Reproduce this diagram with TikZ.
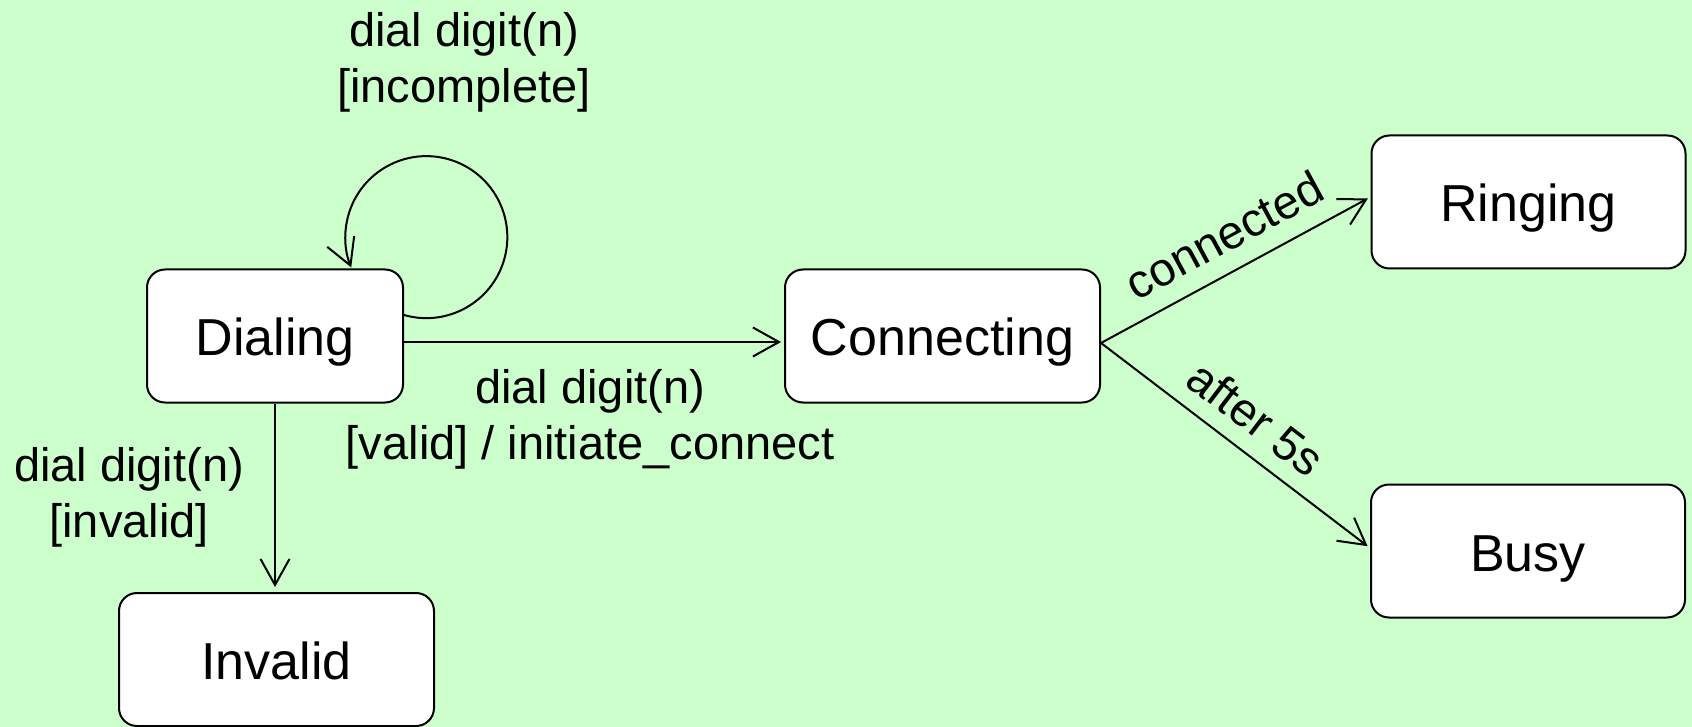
\documentclass[tikz,border=0pt]{standalone}
\usepackage{fontspec}
\setmainfont{Liberation Sans}
\usetikzlibrary{arrows.meta}
\definecolor{bgGreen}{RGB}{204,255,204}
\begin{document}
\begin{tikzpicture}[x=0.5pt,y=-0.5pt,
  state/.style={draw=black, fill=white, line width=1pt, rounded corners=9pt,
    minimum height=66.5pt, inner sep=0pt, text height=20pt, text depth=0pt,
    font=\fontsize{26}{31}\selectfont},
  trans/.style={line width=1pt,
    -{Straight Barb[length=13pt,width=14.5pt,line width=1pt]}},
  lbl/.style={font=\fontsize{23.5}{28}\selectfont, align=center, inner sep=0pt}]
% canvas
\fill[bgGreen] (0,0) rectangle (1692,727);
\useasboundingbox (0,0) rectangle (1692,727);

% states
\node[state, minimum width=128pt]   (dialing)    at (275,336)    {Dialing};
\node[state, minimum width=157.5pt] (connecting) at (942.5,336)  {Connecting};
\node[state, minimum width=157pt]   (ringing)    at (1528.5,202) {Ringing};
\node[state, minimum width=157pt]   (busy)       at (1528,551)   {Busy};
\node[state, minimum width=157.5pt] (invalid)    at (276.5,659.5) {Invalid};

% self transition on Dialing
\draw[trans] ([yshift=-23.25pt]dialing.north east)
  arc[start angle=254, end angle=562, radius=40.5pt];
\node[lbl] (lblloop) at (464,62) {dial digit(n)\\{}[incomplete]};

% Dialing -> Connecting
\draw[trans, shorten >=1.5pt] ([yshift=-3pt]dialing.east) --
  node[lbl, pos=0.49, below=13pt] (lblvalid) {dial digit(n)\\{}[valid] / initiate\_connect}
  ([yshift=-3pt]connecting.west);

% Dialing -> Invalid
\draw[trans, shorten >=2.5pt] (dialing.south) --
  node[lbl, midway, left=15pt] (lblinvalid) {dial digit(n)\\{}[invalid]}
  (dialing.south |- invalid.north);

% Connecting -> Ringing
\draw[trans, shorten >=1.5pt] ([yshift=-3.5pt]connecting.east) --
  node[lbl, pos=0.52, sloped, above=9pt] (lblconn) {connected}
  ([yshift=2.5pt]ringing.west);

% Connecting -> Busy
\draw[trans, shorten >=1.5pt] ([yshift=-3.5pt]connecting.east) --
  node[lbl, midway, sloped, above=8pt] (lblafter) {after 5s}
  ([yshift=1.5pt]busy.west);
\end{tikzpicture}
\end{document}
